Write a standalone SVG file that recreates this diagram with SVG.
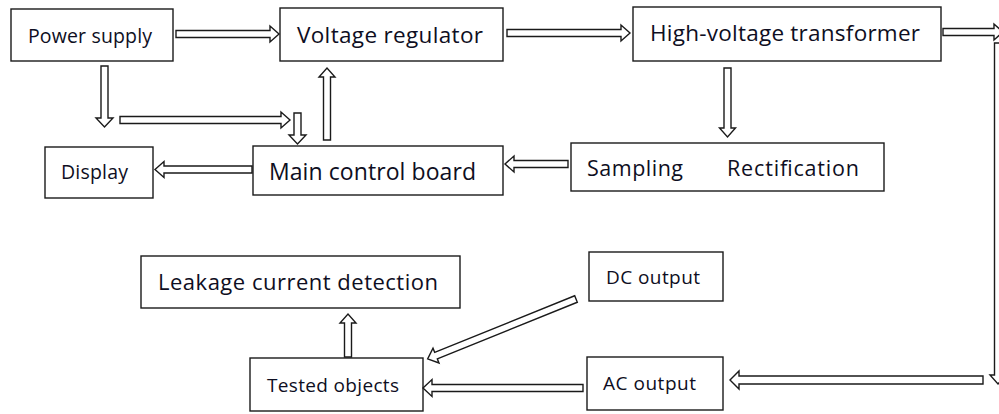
<svg xmlns="http://www.w3.org/2000/svg" width="999" height="414" viewBox="0 0 999 414">
<style>
.box{fill:#fff;stroke:#1a1a1a;stroke-width:1.4}
.t{font-family:"Open Sans","Liberation Sans",sans-serif;fill:#0e0e22}
.arr{fill:#fff;stroke:#1a1a1a;stroke-width:1.4;stroke-linejoin:miter}
</style>
<rect width="999" height="414" fill="#fff"/>
<g id="power-supply"><rect class="box" x="11" y="9" width="162" height="52"/><text class="t" x="28" y="43" font-size="19.5" textLength="124">Power supply</text></g>
<g id="voltage-regulator"><rect class="box" x="280" y="8" width="223" height="53"/><text class="t" x="297" y="43" font-size="22.5" textLength="186">Voltage regulator</text></g>
<g id="hv-transformer"><rect class="box" x="633" y="7" width="308" height="54"/><text class="t" x="650" y="41" font-size="22.5" textLength="270">High-voltage transformer</text></g>
<g id="display"><rect class="box" x="45" y="147" width="108" height="51"/><text class="t" x="61" y="179" font-size="19.5" textLength="67">Display</text></g>
<g id="main-control-board"><rect class="box" x="253" y="146" width="250" height="49"/><text class="t" x="269" y="180" font-size="23" textLength="207">Main control board</text></g>
<g id="sampling-rectification"><rect class="box" x="571" y="143" width="313" height="48"/><text class="t" x="587" y="176" font-size="21.5" textLength="96">Sampling</text><text class="t" x="727" y="176" font-size="21.5" textLength="132">Rectification</text></g>
<g id="leakage"><rect class="box" x="141" y="256" width="319" height="52"/><text class="t" x="158" y="290" font-size="22" textLength="280">Leakage current detection</text></g>
<g id="tested-objects"><rect class="box" x="250" y="358" width="173" height="53"/><text class="t" x="267" y="392" font-size="19" textLength="132">Tested objects</text></g>
<g id="dc-output"><rect class="box" x="589" y="252" width="134" height="49"/><text class="t" x="606" y="284" font-size="19" textLength="94">DC output</text></g>
<g id="ac-output"><rect class="box" x="587" y="357" width="136" height="53"/><text class="t" x="603" y="390" font-size="19" textLength="93">AC output</text></g>
<g id="connectors">
<path class="arr" d="M176,30.5 H270 V26 L279,34 L270,42 V37.5 H176 Z"/>
<path class="arr" d="M507,29.5 H621 V25 L630,33 L621,41 V36.5 H507 Z"/>
<path class="arr" d="M943,28.5 H994 V24 L1003,32 L994,40 V35.5 H943 Z"/>
<path class="arr" d="M994.5,43 V375 H990 L998,384 L1006,375 H1001.5 V43 Z"/>
<path class="arr" d="M983,376 H739 V371 L730,380 L739,389 V384 H983 Z"/>
<path class="arr" d="M583,384.5 H432 V379.5 L423,388 L432,396.5 V391.5 H583 Z"/>
<path class="arr" transform="translate(576,299) rotate(158)" d="M0,-3.5 H151 V-8 L160,0 L151,8 V3.5 H0 Z"/>
<path class="arr" d="M344.5,357 V323 H340 L348,314 L356,323 H351.5 V357 Z"/>
<path class="arr" d="M101,66 V118 H96 L104.5,127 L113,118 H108 V66 Z"/>
<path class="arr" d="M120,116.5 H281 V112 L290,120 L281,128 V123.5 H120 Z"/>
<path class="arr" d="M294,113 V135 H289 L297.5,144 L306,135 H301 V113 Z"/>
<path class="arr" d="M323.5,140 V77 H319 L327,68 L335,77 H330.5 V140 Z"/>
<path class="arr" d="M252,166 H164 V161.5 L155,169.5 L164,177.5 V173 H252 Z"/>
<path class="arr" d="M724,68 V128 H719.5 L727.5,137 L735.5,128 H731 V68 Z"/>
<path class="arr" d="M568,160.5 H514 V156 L505,164 L514,172 V167.5 H568 Z"/>
</g>
</svg>
